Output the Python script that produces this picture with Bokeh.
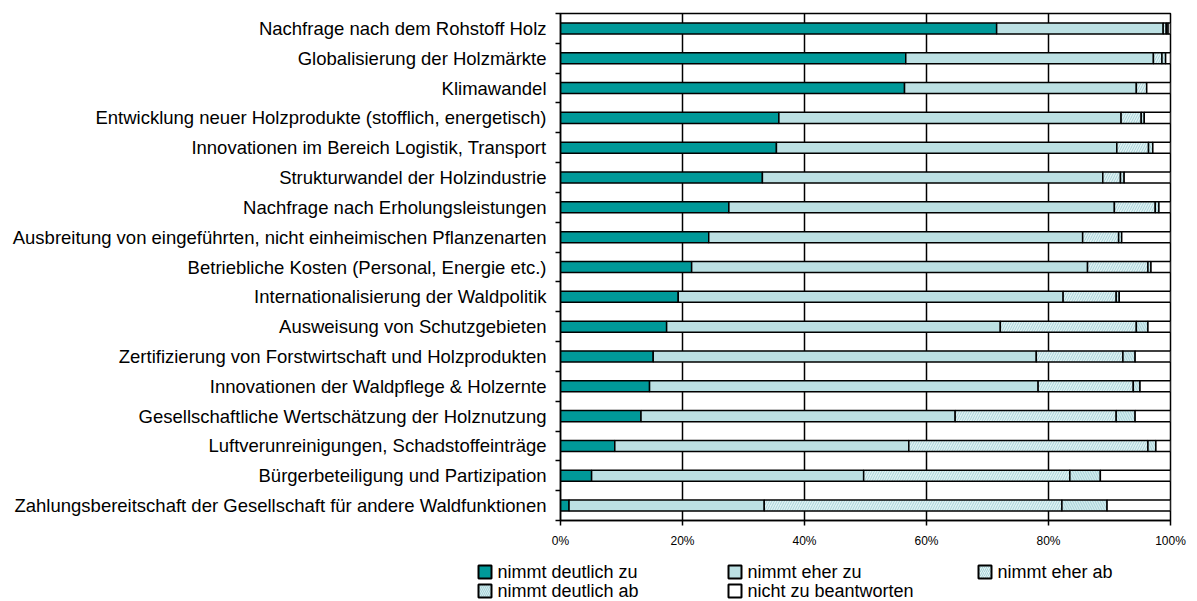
from bokeh.plotting import figure
from bokeh.layouts import column
from bokeh.models import ColumnDataSource, FixedTicker, Range1d, PrintfTickFormatter
from bokeh.core.properties import value
from bokeh.embed import file_html
from bokeh.resources import INLINE

categories = [
    "Nachfrage nach dem Rohstoff Holz",
    "Globalisierung der Holzmärkte",
    "Klimawandel",
    "Entwicklung neuer Holzprodukte (stofflich, energetisch)",
    "Innovationen im Bereich Logistik, Transport",
    "Strukturwandel der Holzindustrie",
    "Nachfrage nach Erholungsleistungen",
    "Ausbreitung von eingeführten, nicht einheimischen Pflanzenarten",
    "Betriebliche Kosten (Personal, Energie etc.)",
    "Internationalisierung der Waldpolitik",
    "Ausweisung von Schutzgebieten",
    "Zertifizierung von Forstwirtschaft und Holzprodukten",
    "Innovationen der Waldpflege & Holzernte",
    "Gesellschaftliche Wertschätzung der Holznutzung",
    "Luftverunreinigungen, Schadstoffeinträge",
    "Bürgerbeteiligung und Partizipation",
    "Zahlungsbereitschaft der Gesellschaft für andere Waldfunktionen",
]
nimmt_deutlich_zu = [71.5, 56.6, 56.4, 35.8, 35.4, 33.1, 27.6, 24.3, 21.5, 19.3, 17.4, 15.2, 14.6, 13.2, 8.9, 5.1, 1.4]
nimmt_eher_zu = [27.3, 40.6, 38.0, 56.1, 55.8, 55.8, 63.2, 61.3, 64.9, 63.1, 54.7, 62.8, 63.7, 51.5, 48.2, 44.6, 32.0]
nimmt_eher_ab = [0.5, 1.4, 1.7, 3.3, 5.2, 2.9, 6.7, 5.9, 9.9, 8.7, 22.3, 14.2, 15.6, 26.4, 39.2, 33.8, 48.8]
nimmt_deutlich_ab = [0.3, 0.6, 0.0, 0.5, 0.7, 0.6, 0.6, 0.5, 0.5, 0.5, 1.9, 2.0, 1.1, 3.1, 1.3, 5.0, 7.4]
nicht_zu_beantworten = [0.4, 0.8, 3.9, 4.3, 2.9, 7.6, 1.9, 8.0, 3.2, 8.4, 3.7, 5.8, 5.0, 5.8, 2.4, 11.5, 10.4]
x_ticks = [0, 20, 40, 60, 80, 100]
series_labels = ["nimmt deutlich zu", "nimmt eher zu", "nimmt eher ab", "nimmt deutlich ab", "nicht zu beantworten"]

n = len(categories)
ypos = [n - 1 - i for i in range(n)]
keys = ["dz", "ez", "ea", "da", "nz"]
source = ColumnDataSource(dict(y=ypos, dz=nimmt_deutlich_zu, ez=nimmt_eher_zu,
                               ea=nimmt_eher_ab, da=nimmt_deutlich_ab, nz=nicht_zu_beantworten))

FONT = "Liberation Sans"
fills = ["#009999", "#BCE0E3", "#E2F3F5", "#D4ECEF", "#FFFFFF"]
hatches = [" ", " ", "/", "\\", " "]
HATCH_COLOR = "#A6D2D7"

p = figure(width=1197, height=556, output_backend="svg", toolbar_location=None,
           x_range=Range1d(0, 100), y_range=Range1d(-0.5, n - 0.5),
           min_border_left=560, min_border_right=27, min_border_top=13, min_border_bottom=36)
p.background_fill_color = "white"
p.border_fill_color = "white"
p.outline_line_color = "black"
p.outline_line_width = 1.5

renderers = p.hbar_stack(keys, y="y", height=0.37, source=source,
                         fill_color=fills, line_color="black", line_width=1.5,
                         hatch_pattern=hatches, hatch_color=HATCH_COLOR, hatch_scale=5, hatch_weight=1)

p.xgrid.ticker = FixedTicker(ticks=x_ticks)
p.xgrid.grid_line_color = "black"
p.xgrid.grid_line_width = 1.5
p.ygrid.grid_line_color = None

xa = p.xaxis[0]
xa.ticker = FixedTicker(ticks=x_ticks)
xa.formatter = PrintfTickFormatter(format="%d%%")
xa.major_tick_out = 5
xa.major_tick_in = 0
xa.minor_tick_line_color = None
xa.axis_line_color = "black"
xa.axis_line_width = 1.5
xa.major_tick_line_width = 1.5
xa.major_label_text_font = FONT
xa.major_label_text_font_size = "12px"
xa.major_label_text_color = "black"
xa.major_label_standoff = 8

ya = p.yaxis[0]
ya.ticker = FixedTicker(ticks=ypos, minor_ticks=[v + 0.5 for v in range(-1, n)])
ya.major_label_overrides = {y: c for y, c in zip(ypos, categories)}
ya.major_tick_line_color = None
ya.major_tick_out = 0
ya.major_tick_in = 0
ya.minor_tick_out = 5
ya.minor_tick_in = 0
ya.minor_tick_line_color = "black"
ya.minor_tick_line_width = 1.5
ya.axis_line_color = "black"
ya.axis_line_width = 1.5
ya.major_label_text_font = FONT
ya.major_label_text_font_size = "18.5px"
ya.major_label_text_color = "black"
ya.major_label_standoff = 9

# legend strip below the chart (screen-like coordinates, y downward)
lg = figure(width=1197, height=45, output_backend="svg", toolbar_location=None,
            x_range=Range1d(0, 1197), y_range=Range1d(45, 0),
            x_axis_type=None, y_axis_type=None,
            min_border_left=0, min_border_right=0, min_border_top=0, min_border_bottom=0)
lg.frame_align = False
lg.outline_line_color = None
lg.grid.grid_line_color = None
lg.background_fill_color = "white"
lg.border_fill_color = "white"

col_x = [478 + 250 * (i % 3) for i in range(len(series_labels))]
row_y = [15.5 + 19 * (i // 3) for i in range(len(series_labels))]
leg_src = ColumnDataSource(dict(
    x=[cx + 6.5 for cx in col_x], y=row_y, tx=[cx + 19 for cx in col_x],
    label=series_labels, fill=fills, hatch=hatches))
lg.rect(x="x", y="y", width=13, height=13, source=leg_src, fill_color="fill",
        line_color="black", line_width=2, hatch_pattern="hatch", hatch_color=HATCH_COLOR,
        hatch_scale=4, hatch_weight=1)
lg.text(x="tx", y="y", text="label", source=leg_src, text_font=value(FONT),
        text_font_size="18px", text_baseline="middle", text_align="left", text_color="black")

layout = column(p, lg, spacing=0)
open("out.html", "w").write(file_html(layout, INLINE))
